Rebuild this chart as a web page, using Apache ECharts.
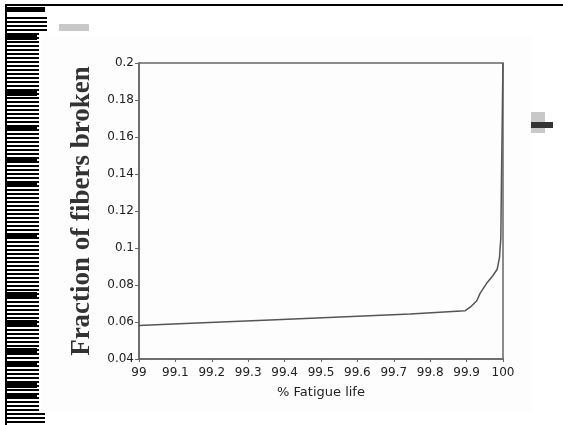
<!DOCTYPE html>
<html><head><meta charset="utf-8">
<script src="https://cdn.jsdelivr.net/npm/echarts@6/dist/echarts.min.js"></script>
<style>html,body{margin:0;padding:0;background:#fff}#c{width:563px;height:425px}</style>
</head><body><div id="c"></div>
<script>
// Data
const fatigueLife = [99, 99.11, 99.36, 99.745, 99.896, 99.91, 99.928, 99.937, 99.955, 99.972, 99.984, 99.9905, 99.992, 99.994, 99.996, 99.998, 99.9995, 100];
const fractionBroken = [0.0581, 0.0590, 0.0611, 0.0643, 0.0661, 0.0680, 0.0715, 0.0755, 0.0809, 0.0850, 0.0885, 0.0950, 0.1000, 0.1050, 0.1400, 0.1700, 0.1950, 0.2000];
const xTicks = [99, 99.1, 99.2, 99.3, 99.4, 99.5, 99.6, 99.7, 99.8, 99.9, 100];
const yTicks = [0.04, 0.06, 0.08, 0.1, 0.12, 0.14, 0.16, 0.18, 0.2];
const xTitle = '% Fatigue life';
const yTitle = 'Fraction of fibers broken';

// scan artefacts (decoration only)
const thickBars = [7, 35, 91, 126, 157, 182, 233, 292, 320, 348, 361, 383, 394];
const artefacts = [];
artefacts.push({type:'rect', shape:{x:0,y:0,width:563,height:425}, style:{fill:'#fff'}, z:-10});
artefacts.push({type:'rect', shape:{x:42,y:36,width:490,height:376}, style:{fill:'#fdfdfd'}, z:-9});
artefacts.push({type:'rect', shape:{x:5,y:4,width:558,height:2}, style:{fill:'#000'}});
artefacts.push({type:'rect', shape:{x:5,y:4,width:2,height:421}, style:{fill:'#000'}});
for (let y = 17; y < 412; y += 4) {
  const w = (y < 32 || y > 410) ? 40 : 32;
  artefacts.push({type:'rect', shape:{x:7,y:y,width:w,height:2}, style:{fill:'#000'}});
}
thickBars.forEach(y => artefacts.push({type:'rect', shape:{x:7,y:y,width:(y<20?38:30),height:5}, style:{fill:'#000'}}));
[413, 417, 421].forEach(y => artefacts.push({type:'rect', shape:{x:7,y:y,width:38,height:2}, style:{fill:'#000'}}));
artefacts.push({type:'rect', shape:{x:59,y:24,width:30,height:7}, style:{fill:'#c8c8c8'}});
artefacts.push({type:'rect', shape:{x:531,y:112,width:14,height:21}, style:{fill:'#c8c8c8'}});
artefacts.push({type:'rect', shape:{x:531,y:122,width:22,height:6}, style:{fill:'#333'}});

const chart = echarts.init(document.getElementById('c'), null, {renderer:'canvas'});
const fmt = v => (Math.round(v * 100) / 100).toString();
chart.setOption({
  animation: false,
  backgroundColor: 'transparent',
  graphic: artefacts,
  grid: {left: 139, right: 60, top: 63, bottom: 66, show: true, borderColor: '#666', borderWidth: 1.5, backgroundColor: 'transparent'},
  xAxis: {
    type: 'value', min: xTicks[0], max: xTicks[xTicks.length - 1], interval: 0.1,
    name: xTitle, nameLocation: 'middle', nameGap: 27,
    nameTextStyle: {fontFamily: 'DejaVu Sans', fontSize: 13, color: '#222'},
    axisLine: {lineStyle: {color: '#666', width: 1.5}},
    axisTick: {length: 3, lineStyle: {color: '#666'}},
    axisLabel: {formatter: fmt, fontFamily: 'DejaVu Sans', fontSize: 12, color: '#222', margin: 8},
    splitLine: {show: false}
  },
  yAxis: {
    type: 'value', min: yTicks[0], max: yTicks[yTicks.length - 1], interval: 0.02,
    name: yTitle, nameLocation: 'middle', nameGap: 43,
    nameTextStyle: {fontFamily: 'Liberation Serif', fontWeight: 'bold', fontSize: 27, color: '#333'},
    axisLine: {lineStyle: {color: '#666', width: 1.5}},
    axisTick: {length: 4, lineStyle: {color: '#666'}},
    axisLabel: {formatter: fmt, fontFamily: 'DejaVu Sans', fontSize: 12, color: '#222', margin: 5},
    splitLine: {show: false}
  },
  series: [{
    type: 'line', data: fatigueLife.map((x, i) => [x, fractionBroken[i]]),
    showSymbol: false, symbol: 'none', smooth: false,
    lineStyle: {color: '#555', width: 1.5}
  }]
});
</script></body></html>
